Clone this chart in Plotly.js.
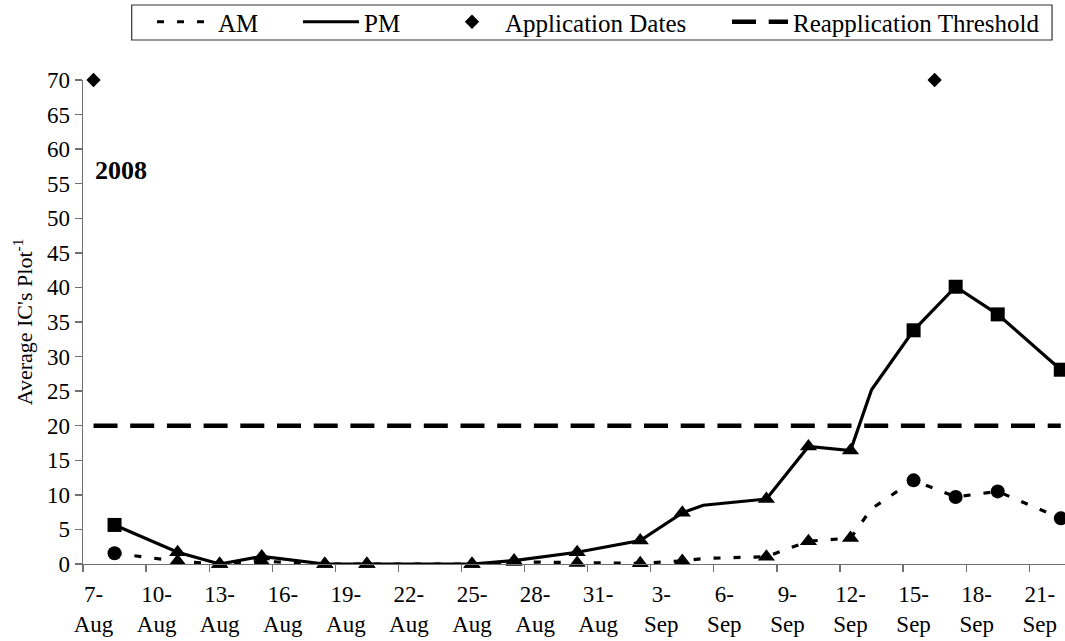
<!DOCTYPE html>
<html>
<head>
<meta charset="utf-8">
<script src="https://cdn.plot.ly/plotly-3.0.1.min.js"></script>
<style>
  html, body { margin: 0; padding: 0; background: #fff; }
  #chart { width: 1065px; height: 641px; }
</style>
</head>
<body>
<div id="chart"></div>
<script>
// Sampling dates (2008) and average IC counts per plot
const sampleDates = ['2008-08-08', '2008-08-11', '2008-08-13', '2008-08-15', '2008-08-18',
  '2008-08-20', '2008-08-25', '2008-08-27', '2008-08-30', '2008-09-02', '2008-09-04',
  '2008-09-05', '2008-09-08', '2008-09-10', '2008-09-12', '2008-09-13', '2008-09-15',
  '2008-09-17', '2008-09-19', '2008-09-22'];
const amCounts = [1.55, 0.4, 0, 0.4, 0, 0, 0, 0.3, 0.15, 0.1, 0.45,
  0.8, 1.05, 3.3, 3.75, 8.0, 12.1, 9.7, 10.5, 6.6];
const pmCounts = [5.65, 1.7, 0, 1.1, 0, 0, 0, 0.5, 1.7, 3.4, 7.4,
  8.5, 9.4, 17.0, 16.4, 25.2, 33.8, 40.1, 36.1, 28.1];
// dates that only shape the line and carry no marker
const unmarkedDates = ['2008-09-05', '2008-09-13'];

const applicationDates = ['2008-08-07', '2008-09-16'];
const applicationLevel = [70, 70];

const thresholdDates = ['2008-08-07', '2008-09-22'];
const thresholdLevel = [20, 20];

const tickDates = ['2008-08-07', '2008-08-10', '2008-08-13', '2008-08-16', '2008-08-19',
  '2008-08-22', '2008-08-25', '2008-08-28', '2008-08-31', '2008-09-03', '2008-09-06',
  '2008-09-09', '2008-09-12', '2008-09-15', '2008-09-18', '2008-09-21'];
const tickLabels = ['7-<br>Aug', '10-<br>Aug', '13-<br>Aug', '16-<br>Aug', '19-<br>Aug',
  '22-<br>Aug', '25-<br>Aug', '28-<br>Aug', '31-<br>Aug', '3-<br>Sep', '6-<br>Sep',
  '9-<br>Sep', '12-<br>Sep', '15-<br>Sep', '18-<br>Sep', '21-<br>Sep'];
const yTicks = [0, 5, 10, 15, 20, 25, 30, 35, 40, 45, 50, 55, 60, 65, 70];

// ---- helpers -------------------------------------------------------------
const pad2 = n => String(n).padStart(2, '0');
function shiftHours(day, hours) {
  const t = new Date(day + 'T00:00:00Z').getTime() + hours * 3600e3;
  const d = new Date(t);
  return d.getUTCFullYear() + '-' + pad2(d.getUTCMonth() + 1) + '-' + pad2(d.getUTCDate()) +
    ' ' + pad2(d.getUTCHours()) + ':' + pad2(d.getUTCMinutes());
}
// each day is a slot centred on its date; tick marks sit on slot edges
const slotEdges = tickDates.map(d => shiftHours(d, -12));
const xRange = [shiftHours('2008-08-07', -12), shiftHours('2008-09-22', 4.8)];

// early and late samples use round/square markers, the middle period triangles
function symbolFor(day, endSymbol) {
  return (day < '2008-08-10' || day > '2008-09-14') ? endSymbol : 'triangle-up';
}
function markerPoints(values, endSymbol) {
  const x = [], y = [], sym = [], size = [];
  sampleDates.forEach((d, i) => {
    if (unmarkedDates.includes(d)) return;
    const s = symbolFor(d, endSymbol);
    x.push(d); y.push(values[i]); sym.push(s);
    size.push(s === 'triangle-up' ? 15 : 14);
  });
  return { x, y, sym, size };
}

const FONT = 'Liberation Serif, Times New Roman, serif';
const AXIS_GREY = '#707070';

const amMarks = markerPoints(amCounts, 'circle');
const pmMarks = markerPoints(pmCounts, 'square');

const traces = [
  {
    name: 'Reapplication Threshold', legend: 'legend4',
    x: thresholdDates, y: thresholdLevel, mode: 'lines',
    line: { color: '#000', width: 4.5, dash: '24px,12.7px' },
    hoverinfo: 'skip'
  },
  {
    name: 'AM', legend: 'legend',
    x: sampleDates, y: amCounts, mode: 'lines',
    line: { color: '#000', width: 3.2, dash: '7px,13px' }
  },
  {
    name: 'PM', legend: 'legend2',
    x: sampleDates, y: pmCounts, mode: 'lines',
    line: { color: '#000', width: 3.2 }
  },
  {
    name: 'AM', showlegend: false,
    x: amMarks.x, y: amMarks.y, mode: 'markers', cliponaxis: false,
    marker: { color: '#000', opacity: 1, symbol: amMarks.sym, size: amMarks.size, line: { width: 0 } }
  },
  {
    name: 'PM', showlegend: false,
    x: pmMarks.x, y: pmMarks.y, mode: 'markers', cliponaxis: false,
    marker: { color: '#000', opacity: 1, symbol: pmMarks.sym, size: pmMarks.size, line: { width: 0 } }
  },
  {
    name: 'Application Dates', legend: 'legend3',
    x: applicationDates, y: applicationLevel, mode: 'markers', cliponaxis: false,
    marker: { color: '#000', symbol: 'diamond', size: 11, line: { width: 0 } }
  }
];

const W = 1065, H = 641;
function legendAt(px) {
  return {
    orientation: 'h', xref: 'container', yref: 'container',
    x: px / W, xanchor: 'left', y: 1 - 22 / H, yanchor: 'middle',
    itemwidth: 56, borderwidth: 0, bgcolor: 'rgba(0,0,0,0)',
    font: { family: FONT, size: 25, color: '#000' }
  };
}

const layout = {
  width: W, height: H, autosize: false,
  paper_bgcolor: '#fff', plot_bgcolor: '#fff',
  margin: { l: 83, r: 0, t: 80, b: 77, pad: 0 },
  font: { family: FONT, size: 23, color: '#000' },
  showlegend: true,
  legend: legendAt(152),
  legend2: legendAt(298),
  legend3: legendAt(439),
  legend4: legendAt(727),
  xaxis: {
    type: 'date', range: xRange,
    tickmode: 'array', tickvals: tickDates, ticktext: tickLabels,
    ticks: '', ticklabelstandoff: 9,
    tickfont: { family: FONT, size: 23, color: '#000' },
    showline: true, linecolor: AXIS_GREY, linewidth: 1.3,
    showgrid: false, zeroline: false,
    minor: { tickmode: 'array', tickvals: slotEdges, ticks: 'outside', ticklen: 7,
             tickwidth: 1.3, tickcolor: AXIS_GREY, showgrid: false }
  },
  xaxis2: {
    type: 'date', range: xRange, overlaying: 'x', anchor: 'y', side: 'bottom',
    tickmode: 'array', tickvals: slotEdges, ticks: 'inside', ticklen: 7,
    tickwidth: 1.3, tickcolor: AXIS_GREY,
    showticklabels: false, showline: false, showgrid: false, zeroline: false
  },
  yaxis: {
    range: [0, 70], tickmode: 'array', tickvals: yTicks,
    ticks: 'outside', ticklen: 7, tickwidth: 1.3, tickcolor: AXIS_GREY,
    tickfont: { family: FONT, size: 23, color: '#000' },
    showline: true, linecolor: AXIS_GREY, linewidth: 1.3,
    showgrid: false, zeroline: false,
    title: { text: "Average IC's Plot<sup>-1</sup>", font: { family: FONT, size: 22, color: '#000' }, standoff: 8 }
  },
  annotations: [
    { text: '<b>2008</b>', xref: 'paper', yref: 'paper', x: 0.0102, y: 0.814,
      xanchor: 'left', yanchor: 'middle', showarrow: false,
      font: { family: FONT, size: 26, color: '#000' } }
  ],
  shapes: [
    // frame round the legend entries
    { type: 'rect', xref: 'paper', yref: 'paper',
      x0: 0.0496, x1: 0.9868, y0: 1.0826, y1: 1.155,
      line: { color: '#333', width: 1.2 }, fillcolor: 'rgba(0,0,0,0)' }
  ]
};

Plotly.newPlot('chart', traces, layout, { staticPlot: true, displayModeBar: false });
</script>
</body>
</html>
